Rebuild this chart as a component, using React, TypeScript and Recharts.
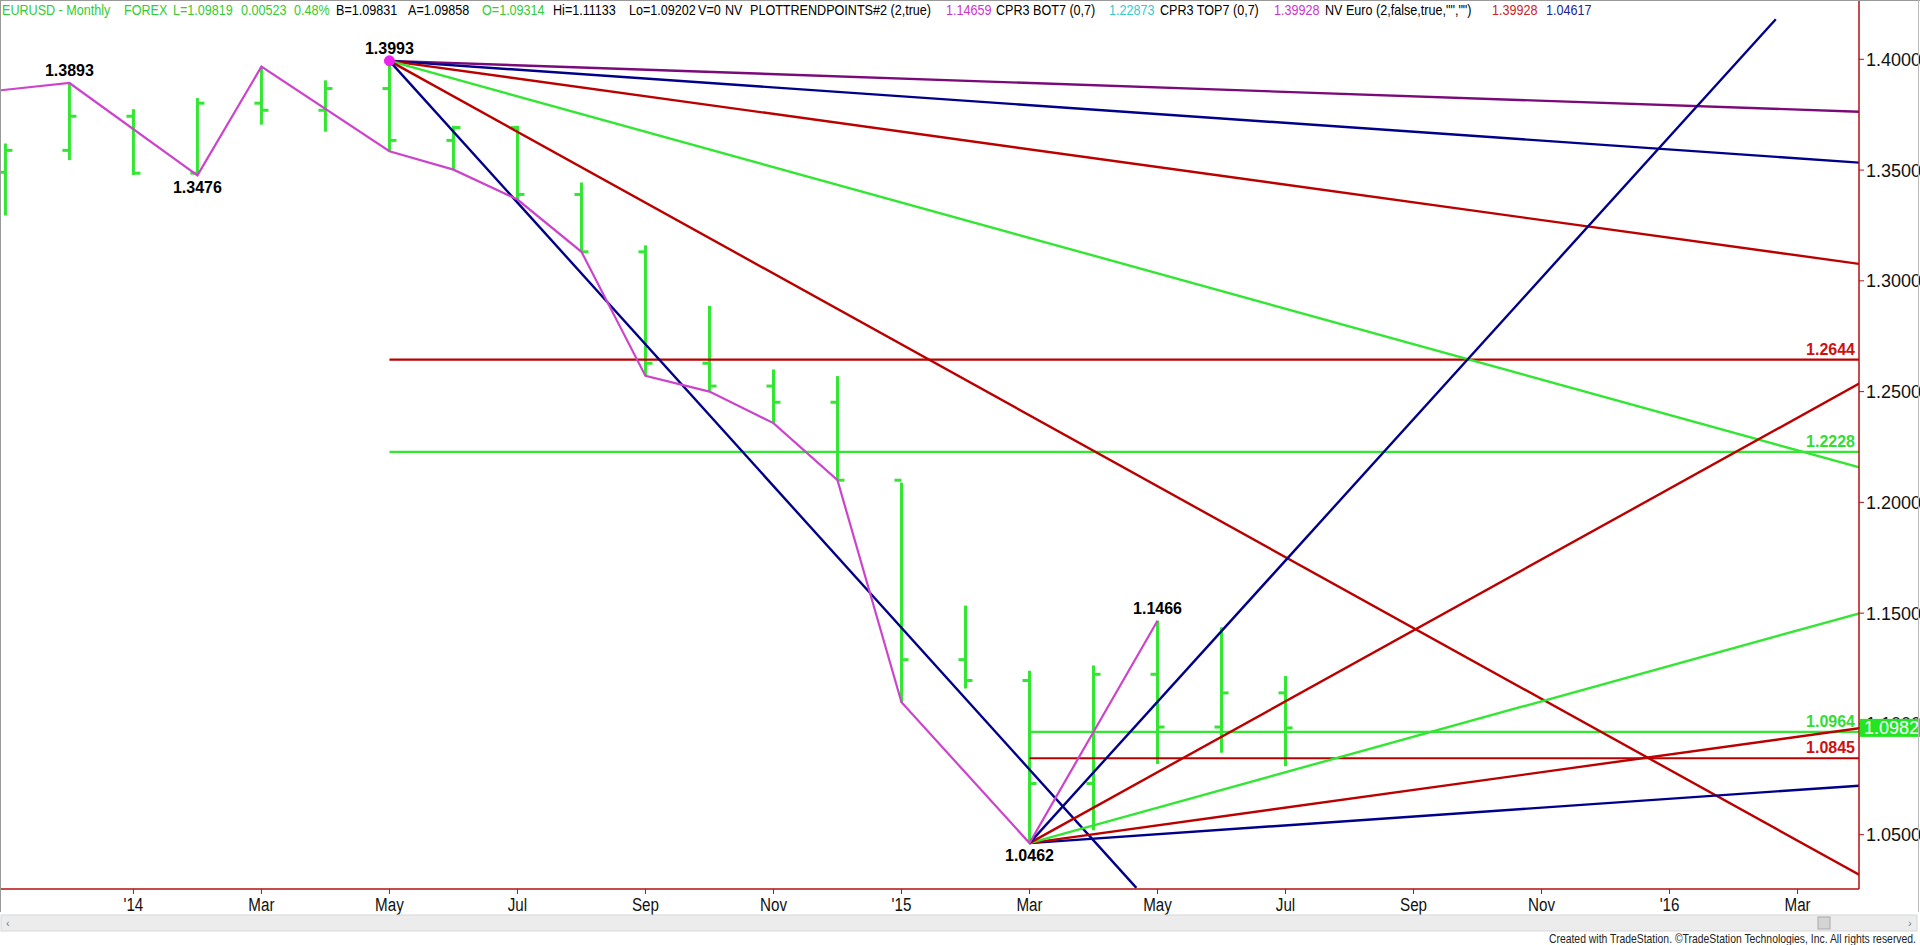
import React from 'react';
import { ComposedChart, XAxis, YAxis, Bar, Line, ReferenceLine, ReferenceDot } from 'recharts';

// ---- data ----
const monthIdx = [0, 1, 2, 3, 4, 5, 6, 7, 8, 9, 10, 11, 12, 13, 14, 15, 16, 17, 18, 19, 20];
const opens = [1.3490, 1.3589, 1.3743, 1.3486, 1.3802, 1.3770, 1.3868, 1.3634, 1.3692, 1.3390, 1.3131, 1.2628, 1.2525, 1.2452, 1.2100, 1.1290, 1.1196, 1.0731, 1.1224, 1.0986, 1.1140];
const highs = [1.3620, 1.3893, 1.3775, 1.3825, 1.3967, 1.3905, 1.3993, 1.3700, 1.3700, 1.3444, 1.3160, 1.2887, 1.2600, 1.2570, 1.2089, 1.1534, 1.1240, 1.1264, 1.1466, 1.1436, 1.1216];
const lows = [1.3295, 1.3545, 1.3478, 1.3476, 1.3705, 1.3673, 1.3585, 1.3502, 1.3367, 1.3131, 1.2571, 1.2500, 1.2358, 1.2100, 1.1098, 1.1160, 1.0462, 1.0520, 1.0819, 1.0870, 1.0809];
const closes = [1.3589, 1.3743, 1.3486, 1.3802, 1.3770, 1.3868, 1.3634, 1.3692, 1.3390, 1.3131, 1.2628, 1.2525, 1.2452, 1.2100, 1.1290, 1.1196, 1.0731, 1.1224, 1.0986, 1.1140, 1.0982];

const xTickIdx = [2, 4, 6, 8, 10, 12, 14, 16, 18, 20, 22, 24, 26, 28];
const xTickLabels = ["'14", 'Mar', 'May', 'Jul', 'Sep', 'Nov', "'15", 'Mar', 'May', 'Jul', 'Sep', 'Nov', "'16", 'Mar'];
const yTicks = [1.05, 1.1, 1.15, 1.2, 1.25, 1.3, 1.35, 1.4];

const zigIdx = [-1, 1, 3, 4, 6, 7, 8, 9, 10, 11, 12, 13, 14, 16, 18];
const zigVal = [1.3832, 1.3893, 1.3476, 1.3967, 1.3585, 1.3502, 1.3367, 1.3131, 1.2571, 1.2500, 1.2358, 1.2100, 1.1098, 1.0462, 1.1466];

const pivotIdx = [1, 3, 6, 18, 16];
const pivotVal = [1.3893, 1.3476, 1.3993, 1.1466, 1.0462];
const pivotLabels = ['1.3893', '1.3476', '1.3993', '1.1466', '1.0462'];
const pivotAbove = [true, false, true, true, false];

const highAnchorIdx = 6;
const highAnchorVal = 1.3993;
const fanDownEndIdx = [29, 29, 29, 29, 29, 17.67];
const fanDownEndVal = [1.3763, 1.3533, 1.3075, 1.2155, 1.0313, 1.0260];

const lowAnchorIdx = 16;
const lowAnchorVal = 1.0462;
const fanUpEndIdx = [29, 29, 29, 29, 27.66];
const fanUpEndVal = [1.0722, 1.0982, 1.1502, 1.2542, 1.4181];

const levelVal = [1.2644, 1.2228, 1.0964, 1.0845];
const levelStart = [6, 6, 16, 16];
const levelLabels = ['1.2644', '1.2228', '1.0964', '1.0845'];

const lastPrice = 1.0982;

// ---- styles ----
const X_MIN = -0.069;
const X_MAX = 28.96;
const Y_MIN = 1.02548;
const Y_MAX = 1.42632;
const GREEN = '#33e633';
const RED = '#bb0000';
const NAVY = '#000088';
const PURPLE = '#7a0a7a';
const MAGENTA = '#cc44cc';
const AXIS = '#b01010';
const FONT = "'Liberation Sans', Arial, Helvetica, sans-serif";
const fanDownColors = [PURPLE, NAVY, RED, GREEN, RED, NAVY];
const fanUpColors = [NAVY, RED, GREEN, RED, NAVY];
const levelColors = [RED, GREEN, GREEN, RED];
const levelTextColors = ['#cc1111', '#33dd33', '#33dd33', '#cc1111'];

const barData = monthIdx.map((i, k) => ({ i, o: opens[k], h: highs[k], l: lows[k], c: closes[k], range: [lows[k], highs[k]] }));
const zigData = zigIdx.map((i, k) => ({ i, z: zigVal[k] }));

const OhlcShape = (props: any) => {
  const { x, y, width, height, payload } = props;
  if (x == null || y == null) return null;
  const cx = x + width / 2;
  const top = Math.min(y, y + height);
  const bot = Math.max(y, y + height);
  const span = payload.h - payload.l;
  const oy = top + ((payload.h - payload.o) / span) * (bot - top);
  const cy = top + ((payload.h - payload.c) / span) * (bot - top);
  return (
    <g>
      <line x1={cx} x2={cx} y1={top} y2={bot} stroke={GREEN} strokeWidth={3} />
      <line x1={cx - 7} x2={cx} y1={oy} y2={oy} stroke={GREEN} strokeWidth={3} />
      <line x1={cx} x2={cx + 7} y1={cy} y2={cy} stroke={GREEN} strokeWidth={3} />
    </g>
  );
};

const XTick = (props: any) => {
  const { x, y, payload } = props;
  const k = xTickIdx.indexOf(payload.value);
  return (
    <g transform={`translate(${x},${y})`}>
      <text transform="scale(0.8,1)" x={0} y={15} textAnchor="middle" fontSize={19} fill="#111" fontFamily={FONT}>
        {k >= 0 ? xTickLabels[k] : ''}
      </text>
    </g>
  );
};

const YTick = (props: any) => {
  const { x, y, payload } = props;
  if (payload.value === lastPrice) {
    return (
      <g>
        <rect x={x - 6} y={y - 9} width={62} height={18} fill="#22e622" />
        <text x={x - 2} y={y + 6.5} fontSize={18} fill="#fff" fontFamily={FONT}>
          {lastPrice.toFixed(4)}
        </text>
      </g>
    );
  }
  return (
    <text x={x} y={y + 6.5} fontSize={18} fill="#111" fontFamily={FONT}>
      {Number(payload.value).toFixed(4)}
    </text>
  );
};

const header: [number, string, string][] = [
  [2, 'EURUSD - Monthly', '#33cc33'],
  [124, 'FOREX', '#33cc33'],
  [173, 'L=1.09819', '#33cc33'],
  [241, '0.00523', '#33cc33'],
  [294, '0.48%', '#33cc33'],
  [336, 'B=1.09831', '#000'],
  [408, 'A=1.09858', '#000'],
  [482, 'O=1.09314', '#33cc33'],
  [553, 'Hi=1.11133', '#000'],
  [629, 'Lo=1.09202', '#000'],
  [698, 'V=0', '#000'],
  [725, 'NV', '#000'],
  [750, 'PLOTTRENDPOINTS#2 (2,true)', '#000'],
  [946, '1.14659', '#cc33cc'],
  [996, 'CPR3 BOT7 (0,7)', '#000'],
  [1109, '1.22873', '#33cccc'],
  [1160, 'CPR3 TOP7 (0,7)', '#000'],
  [1274, '1.39928', '#cc33cc'],
  [1325, 'NV Euro (2,false,true,"","")', '#000'],
  [1492, '1.39928', '#cc2222'],
  [1546, '1.04617', '#222299'],
];

export default function App() {
  return (
    <div style={{ position: 'absolute', left: 0, top: 0, width: 1920, height: 945, background: '#fff', overflow: 'hidden' }}>
      <ComposedChart width={1920} height={945} data={barData} margin={{ top: 1, right: 0, bottom: 0, left: 1 }}>
        <XAxis
          dataKey="i"
          type="number"
          domain={[X_MIN, X_MAX]}
          allowDataOverflow
          ticks={xTickIdx}
          interval={0}
          height={56}
          tick={<XTick />}
          tickSize={5}
          axisLine={{ stroke: AXIS, strokeWidth: 1.5 }}
          tickLine={{ stroke: AXIS }}
        />
        <YAxis
          orientation="right"
          type="number"
          domain={[Y_MIN, Y_MAX]}
          allowDataOverflow
          ticks={[...yTicks, lastPrice]}
          interval={0}
          width={61}
          tickSize={5}
          tickMargin={2}
          tick={<YTick />}
          axisLine={{ stroke: AXIS, strokeWidth: 1.5 }}
          tickLine={{ stroke: AXIS }}
        />
        {levelVal.map((v, k) => (
          <ReferenceLine key={'lv' + k} ifOverflow="hidden" segment={[{ x: levelStart[k], y: v }, { x: 29, y: v }]} stroke={levelColors[k]} strokeWidth={2.2} />
        ))}
        {fanDownEndIdx.map((ei, k) => (
          <ReferenceLine key={'fd' + k} ifOverflow="hidden" segment={[{ x: highAnchorIdx, y: highAnchorVal }, { x: ei, y: fanDownEndVal[k] }]} stroke={fanDownColors[k]} strokeWidth={2.4} />
        ))}
        {fanUpEndIdx.map((ei, k) => (
          <ReferenceLine key={'fu' + k} ifOverflow="hidden" segment={[{ x: lowAnchorIdx, y: lowAnchorVal }, { x: ei, y: fanUpEndVal[k] }]} stroke={fanUpColors[k]} strokeWidth={2.4} />
        ))}
        <Bar dataKey="range" barSize={10} isAnimationActive={false} shape={<OhlcShape />} />
        <Line data={zigData} dataKey="z" stroke={MAGENTA} strokeWidth={2.2} dot={false} activeDot={false} isAnimationActive={false} type="linear" />
        <ReferenceDot x={highAnchorIdx} y={highAnchorVal} r={5} fill="#ee22ee" stroke="#ee22ee" ifOverflow="visible" />
        {pivotIdx.map((pi, k) => (
          <ReferenceDot
            key={'pl' + k}
            x={pi}
            y={pivotVal[k]}
            ifOverflow="visible"
            shape={(p: any) => (
              <text x={p.cx} y={pivotAbove[k] ? p.cy - 7 : p.cy + 18} textAnchor="middle" fontSize={16} fontWeight="bold" fill="#000" fontFamily={FONT}>
                {pivotLabels[k]}
              </text>
            )}
          />
        ))}
        {levelVal.map((v, k) => (
          <ReferenceDot
            key={'ll' + k}
            x={X_MAX}
            y={v}
            ifOverflow="visible"
            shape={(p: any) => (
              <text x={p.cx - 4} y={p.cy - 5} textAnchor="end" fontSize={16} fontWeight="bold" fill={levelTextColors[k]} fontFamily={FONT}>
                {levelLabels[k]}
              </text>
            )}
          />
        ))}
      </ComposedChart>
      <svg width={1920} height={945} style={{ position: 'absolute', left: 0, top: 0, pointerEvents: 'none' }}>
        {header.map(([x, t, c], k) => (
          <g key={k} transform={`translate(${x},15) scale(0.9,1)`}>
            <text x={0} y={0} fontSize={14} fill={c} fontFamily={FONT} style={{ whiteSpace: 'pre' }}>
              {t}
            </text>
          </g>
        ))}
        <rect x={1} y={915} width={1916} height={16} fill="#ececec" stroke="#d8d8d8" />
        <text x={6} y={927} fontSize={11} fill="#777" fontFamily={FONT}>‹</text>
        <text x={1908} y={927} fontSize={11} fill="#777" fontFamily={FONT}>›</text>
        <rect x={1818} y={917} width={12} height={12} fill="#d4d4d4" stroke="#aaa" />
        <g transform="translate(1916,943) scale(0.8,1)">
          <text x={0} y={0} textAnchor="end" fontSize={13} fill="#222" fontFamily={FONT}>
            Created with TradeStation. ©TradeStation Technologies, Inc. All rights reserved.
          </text>
        </g>
        <line x1={0.5} y1={0} x2={0.5} y2={912} stroke="#999" />
        <line x1={0} y1={0.5} x2={1920} y2={0.5} stroke="#999" />
        <line x1={1918.5} y1={0} x2={1918.5} y2={912} stroke="#bbb" />
      </svg>
    </div>
  );
}
